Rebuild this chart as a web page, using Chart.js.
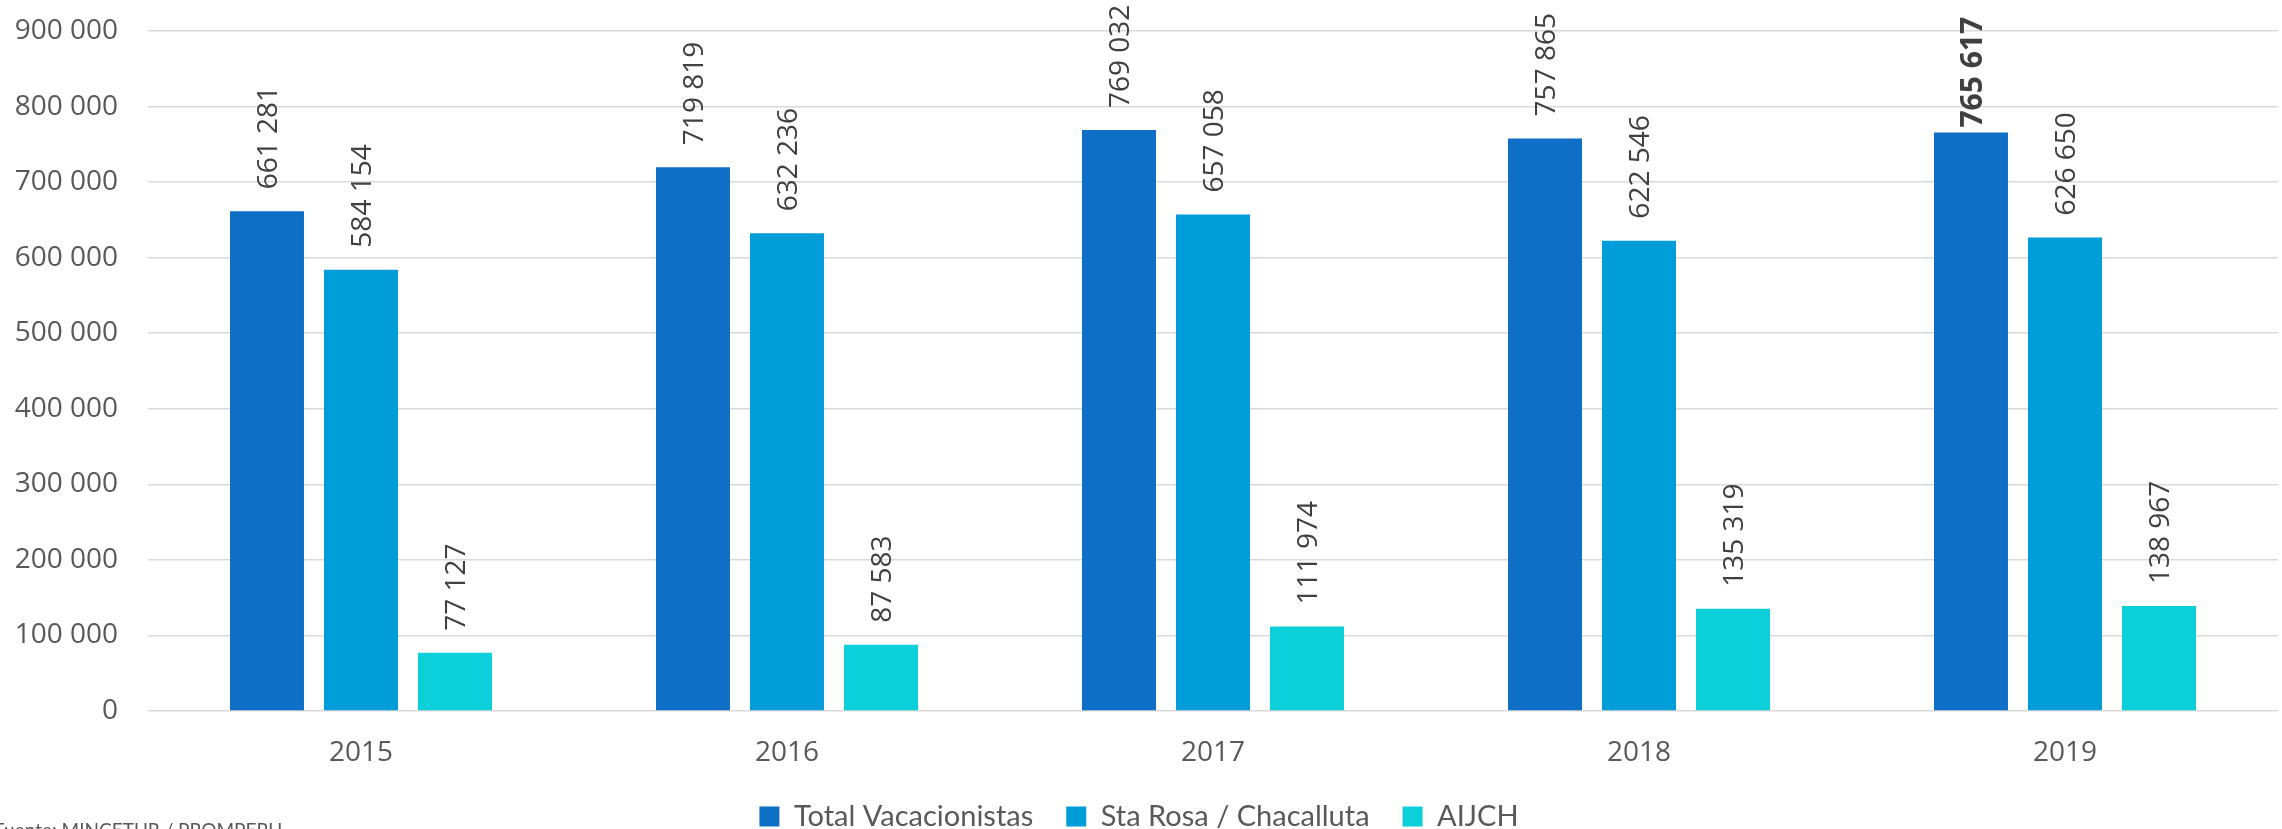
<!DOCTYPE html>
<html>
<head>
<meta charset="utf-8">
<title>Vacacionistas</title>
<script src="https://cdn.jsdelivr.net/npm/chart.js@4"></script>
<style>
    body { margin: 0; background: #fff; }
    #wrap { width: 2282px; height: 829px; position: relative; }
</style>
</head>
<body>
<div id="wrap"><canvas id="chart"></canvas></div>
<script>
// Data
const years = ["2015", "2016", "2017", "2018", "2019"];
const totalVacacionistas = [661281, 719819, 769032, 757865, 765617];
const staRosa = [584154, 632236, 657058, 622546, 626650];
const aijch = [77127, 87583, 111974, 135319, 138967];
const seriesNames = ["Total Vacacionistas", "Sta Rosa / Chacalluta", "AIJCH"];
const yTicksMax = 900000;
const yTicksStep = 100000;
const sourceText = "Fuente: MINCETUR / PROMPERU";

const colors = ["#0F6FC6", "#009DD9", "#0BD0D9"];

// "900 000" style
function fmt(v) {
    return String(v).replace(/\B(?=(\d{3})+(?!\d))/g, " ");
}

// ----------------------
// Vertical value labels above bars
// ----------------------
const barLabels = {
    id: "barLabels",
    afterDatasetsDraw(chart) {
        const ctx = chart.ctx;
        chart.data.datasets.forEach((ds, di) => {
            const meta = chart.getDatasetMeta(di);
            meta.data.forEach((bar, i) => {
                // the 2019 total is bold in the original
                const bold = di === 0 && i === 4;
                ctx.save();
                ctx.font = bold ? "bold 30px 'Open Sans'" : "28px 'Open Sans'";
                ctx.fillStyle = "#404040";
                ctx.textAlign = "left";
                ctx.textBaseline = "middle";
                ctx.translate(bar.x + 2, bar.y - (bold ? 5 : 22));
                ctx.rotate(-Math.PI / 2);
                ctx.fillText(fmt(ds.data[i]), 0, 0);
                ctx.restore();
            });
        });
    }
};

// source note, cut off at the bottom like the original
const sourceNote = {
    id: "sourceNote",
    afterDraw(chart) {
        const ctx = chart.ctx;
        ctx.save();
        ctx.font = "19px Lato";
        ctx.fillStyle = "#595959";
        ctx.textAlign = "left";
        ctx.textBaseline = "top";
        ctx.fillText(sourceText, -6, 821);
        ctx.restore();
    }
};

new Chart(document.getElementById("chart"), {
    type: "bar",
    data: {
        labels: years,
        datasets: [
            { label: seriesNames[0], data: totalVacacionistas, backgroundColor: colors[0] },
            { label: seriesNames[1], data: staRosa, backgroundColor: colors[1] },
            { label: seriesNames[2], data: aijch, backgroundColor: colors[2] }
        ]
    },
    options: {
        responsive: true,
        maintainAspectRatio: false,
        animation: false,
        categoryPercentage: 0.662,
        barPercentage: 0.787,
        layout: { padding: { top: 31, right: 4, left: 0, bottom: 0 } },
        plugins: {
            tooltip: { enabled: false },
            legend: {
                position: "bottom",
                maxHeight: 60,
                labels: {
                    font: { family: "Lato", size: 29 },
                    color: "#595959",
                    boxWidth: 20,
                    boxHeight: 20,
                    padding: 33
                }
            }
        },
        scales: {
            x: {
                grid: { display: false, drawTicks: false },
                border: { display: false },
                ticks: {
                    padding: 28,
                    color: "#595959",
                    font: { family: "Open Sans", size: 28, lineHeight: 1.0 }
                },
                afterFit(scale) { scale.height = 58; }
            },
            y: {
                min: 0,
                max: yTicksMax,
                grid: { color: "#d9d9d9", lineWidth: 1.5, drawTicks: false },
                border: { display: false },
                ticks: {
                    stepSize: yTicksStep,
                    padding: 30,
                    color: "#595959",
                    font: { family: "Open Sans", size: 28 },
                    callback: (v) => fmt(v)
                },
                afterFit(scale) {
                    scale.width = 148;
                    scale.paddingTop = 0;
                    scale.paddingBottom = 0;
                }
            }
        }
    },
    plugins: [barLabels, sourceNote]
});
</script>
</body>
</html>
